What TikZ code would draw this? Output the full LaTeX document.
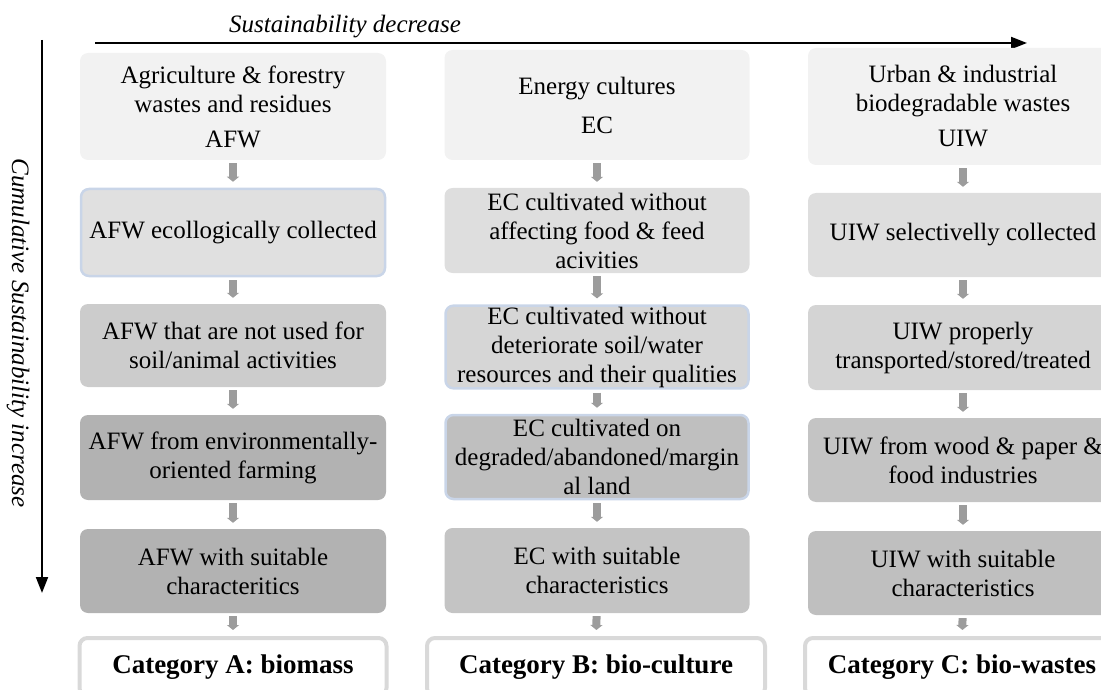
\documentclass[tikz,border=0pt]{standalone}
\usepackage{fontspec}
\setmainfont{Liberation Serif}
\usetikzlibrary{arrows.meta}

\definecolor{headgray}{HTML}{F2F2F2}
\definecolor{edgeblue}{HTML}{C9D5E8}
\definecolor{arrowgray}{HTML}{9C9C9C}
\definecolor{catgray}{HTML}{D9D9D9}

\begin{document}
\begin{tikzpicture}[x=1pt,y=-1pt]
    \tikzset{Box/.style = {rounded corners=8pt, align=center, inner sep=1pt,
      font=\fontsize{25}{29}\selectfont}}
    \tikzset{BlueBox/.style = {Box, draw=edgeblue, line width=2.5pt}}
    \tikzset{CatBox/.style = {Box, fill=white, draw=catgray, line width=4pt,
      font=\fontsize{27}{30}\selectfont\bfseries}}
    \tikzset{Flow/.style = {draw=arrowgray, line width=8pt,
      -{Triangle[length=5pt,width=12pt]}, shorten <=3pt, shorten >=6pt}}
    \tikzset{Axis/.style = {line width=2pt, -{Triangle[length=16pt,width=12pt]}}}
    \useasboundingbox (0,0) rectangle (1101,690);

    % axes
    \coordinate (hs) at (95,43);
    \coordinate (he) at (1027,43);
    \coordinate (vs) at (42,40);
    \coordinate (ve) at (42,593);
    \draw[Axis] (hs) -- (he);
    \draw[Axis] (vs) -- (ve);
    \node[font=\fontsize{25}{29}\itshape] (sd) at (345,27) {Sustainability decrease};
    \node[rotate=-90, font=\fontsize{25}{29}\itshape] (csi) at (18,333)
      {Cumulative Sustainability increase};

    % agriculture & forestry
    \node[Box, fill=headgray, minimum width=306pt, minimum height=107pt] (fA) at (233,106.5)
      {Agriculture \& forestry\\ wastes and residues\\[6pt] AFW};
    \node[BlueBox, fill=black!12, minimum width=304pt, minimum height=87pt] (fB) at (233,232.5)
      {AFW ecollogically collected};
    \node[Box, fill=black!20, minimum width=306pt, minimum height=83pt] (fC) at (233,345.5)
      {AFW that are not used for\\ soil/animal activities};
    \node[Box, fill=black!30, minimum width=306pt, minimum height=85pt] (fD) at (233,457.5)
      {AFW from environmentally-\\ oriented farming};
    \node[Box, fill=black!30, minimum width=306pt, minimum height=84pt] (fE) at (233,571)
      {AFW with suitable\\ characteritics};
    \node[CatBox, minimum width=307pt, minimum height=58pt] (fK) at (233,667)
      {Category A: biomass};

    % energy cultures
    \node[Box, fill=headgray, minimum width=305pt, minimum height=110pt] (eA) at (597,105)
      {Energy cultures\\[10pt] EC};
    \node[Box, fill=black!13, minimum width=305pt, minimum height=85pt] (eB) at (597,230.5)
      {EC cultivated without\\ affecting food \& feed\\ acivities};
    \node[BlueBox, fill=black!16, minimum width=303pt, minimum height=80pt] (eC) at (597,347)
      {EC cultivated without\\ deteriorate soil/water\\ resources and their qualities};
    \node[BlueBox, fill=black!25, minimum width=303pt, minimum height=84pt] (eD) at (597,457)
      {EC cultivated on\\ degraded/abandoned/margin\\ al land};
    \node[Box, fill=black!23, minimum width=305pt, minimum height=85pt] (eE) at (597,570.5)
      {EC with suitable\\ characteristics};
    \node[CatBox, minimum width=338pt, minimum height=58pt] (eK) at (596,667)
      {Category B: bio-culture};

    % urban & industrial
    \node[Box, fill=headgray, minimum width=310pt, minimum height=117pt] (uA) at (963,106.5)
      {Urban \& industrial\\ biodegradable wastes\\[6pt] UIW};
    \node[Box, fill=black!13, minimum width=310pt, minimum height=84pt] (uB) at (963,235)
      {UIW selectivelly collected};
    \node[Box, fill=black!17, minimum width=310pt, minimum height=85pt] (uC) at (963,347.5)
      {UIW properly\\ transported/stored/treated};
    \node[Box, fill=black!23, minimum width=310pt, minimum height=84pt] (uD) at (963,460)
      {UIW from wood \& paper \&\\ food industries};
    \node[Box, fill=black!25, minimum width=310pt, minimum height=84pt] (uE) at (963,573)
      {UIW with suitable\\ characteristics};
    \node[CatBox, minimum width=314pt, minimum height=58pt] (uK) at (962,667)
      {Category C: bio-wastes};

    % small arrows
    \foreach \c in {f,e,u}{
      \draw[Flow] (\c A) -- (\c B);
      \draw[Flow] (\c B) -- (\c C);
      \draw[Flow] (\c C) -- (\c D);
      \draw[Flow] (\c D) -- (\c E);
      \draw[Flow] (\c E) -- (\c K);
    }
\end{tikzpicture}
\end{document}
